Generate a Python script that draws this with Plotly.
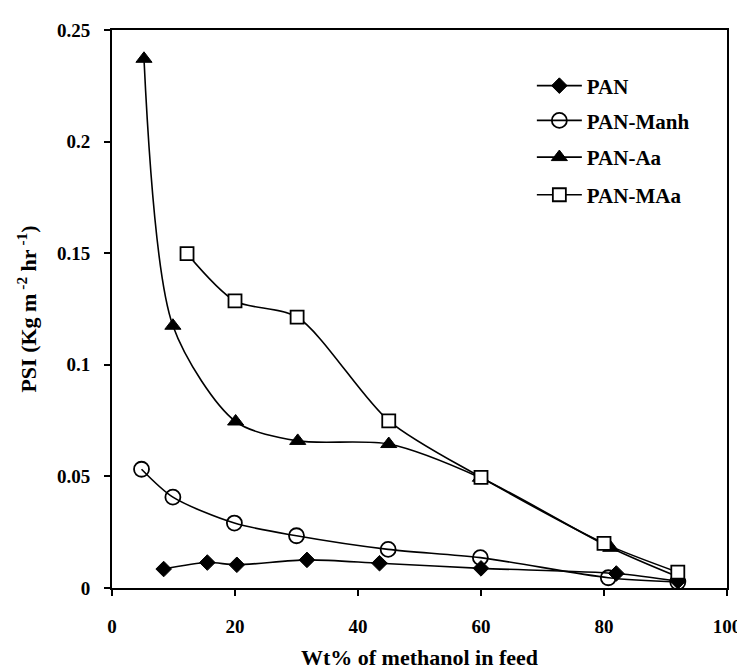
import plotly.graph_objects as go

# Data
pan_x = [8.4, 15.5, 20.3, 31.7, 43.5, 60, 82, 92]
pan_y = [0.0085, 0.0114, 0.0104, 0.0126, 0.0111, 0.0088, 0.0065, 0.003]

manh_x = [4.8, 9.9, 19.9, 30, 44.9, 59.9, 80.7, 92]
manh_y = [0.0532, 0.0407, 0.0291, 0.0234, 0.0173, 0.0136, 0.0046, 0.0027]

aa_x = [5.2, 9.9, 20.1, 30.2, 45, 59.9, 81.1, 92]
aa_y = [0.2371, 0.1175, 0.0746, 0.0659, 0.0645, 0.0494, 0.018, 0.005]

maa_x = [12.2, 20, 30.1, 45, 60, 80, 92]
maa_y = [0.1498, 0.1286, 0.1214, 0.0749, 0.0496, 0.020, 0.0071]

names = ["PAN", "PAN-Manh", "PAN-Aa", "PAN-MAa"]

FONT = "Liberation Serif, Times New Roman, serif"

fig = go.Figure()

series = [
    (pan_x, pan_y, dict(symbol="diamond", size=12, color="black", line=dict(color="black", width=1))),
    (manh_x, manh_y, dict(symbol="circle-open", size=15, color="black", line=dict(color="black", width=1.8))),
    (aa_x, aa_y, dict(symbol="triangle-up", size=14, color="black", line=dict(color="black", width=1))),
    (maa_x, maa_y, dict(symbol="square", size=13, color="white", line=dict(color="black", width=1.8))),
]
legend_ids = ["legend", "legend2", "legend3", "legend4"]

for (xs, ys, mk), nm, lg in zip(series, names, legend_ids):
    fig.add_trace(go.Scatter(
        x=xs, y=ys, name=nm, mode="lines+markers",
        line=dict(color="black", width=1.6, shape="spline", smoothing=0.8),
        marker=mk, legend=lg,
    ))

# plot area in pixels: x 104..728, y 17..595
L, R, T, B = 104, 728, 17, 595
W, H = 745, 670

def py(p):
    return (B - p) / (B - T)

leg_x = (530 - L) / (R - L)
leg_centers = [75, 111, 149, 188]
leg_common = dict(x=leg_x, xanchor="left", yanchor="middle", bgcolor="rgba(0,0,0,0)",
                  font=dict(family=FONT, size=21, color="black", weight="bold"),
                  itemwidth=45, borderwidth=0)

layout_legends = {}
for lg, c in zip(legend_ids, leg_centers):
    layout_legends[lg] = dict(y=py(c), **leg_common)

fig.update_layout(
    width=W, height=H,
    margin=dict(l=L, r=W - R, t=T, b=H - B),
    paper_bgcolor="white", plot_bgcolor="white",
    font=dict(family=FONT, size=19, color="black", weight="bold"),
    showlegend=True,
    **layout_legends,
)

fig.update_xaxes(
    range=[0, 100], dtick=20, tick0=0,
    showgrid=False, zeroline=False,
    showline=True, linecolor="black", linewidth=2, mirror=True,
    ticks="outside", ticklen=6, tickwidth=1.5, tickcolor="black",
    ticklabelstandoff=14,
    tickfont=dict(family=FONT, size=19, color="black", weight="bold"),
    title=dict(text="Wt% of methanol in feed", standoff=14,
               font=dict(family=FONT, size=22, color="black", weight="bold")),
)
fig.update_yaxes(
    range=[0, 0.25], dtick=0.05, tick0=0,
    showgrid=False, zeroline=False,
    showline=True, linecolor="black", linewidth=2, mirror=True,
    ticks="outside", ticklen=6, tickwidth=1.5, tickcolor="black",
    ticklabelstandoff=10,
    tickfont=dict(family=FONT, size=19, color="black", weight="bold"),
    title=dict(text="PSI (Kg m<sup> -2</sup> hr<sup> -1</sup>)", standoff=14,
               font=dict(family=FONT, size=22, color="black", weight="bold")),
)

fig.write_html("out.html")
